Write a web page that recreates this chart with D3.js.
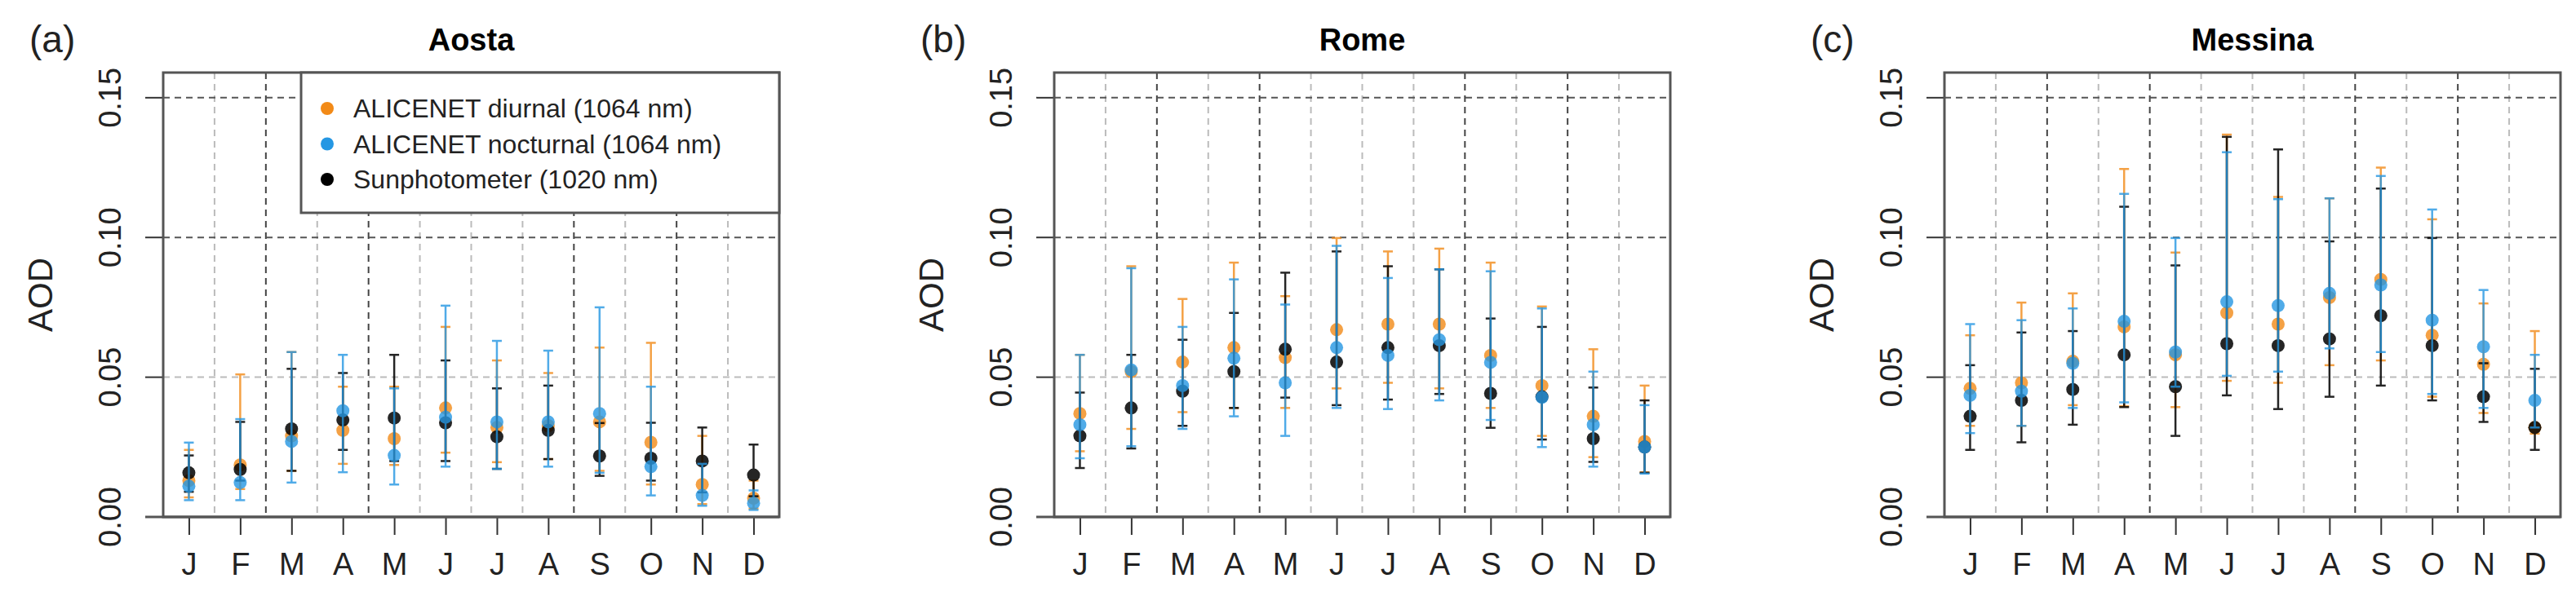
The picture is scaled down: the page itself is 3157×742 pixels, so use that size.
<!DOCTYPE html>
<html><head><meta charset="utf-8">
<script src="https://cdn.jsdelivr.net/npm/d3@7"></script>
<style>body{margin:0;background:#fff}text{font-family:"Liberation Sans Narrow","Liberation Sans",Arial,sans-serif}</style>
</head><body>
<script>
const months = ["J","F","M","A","M","J","J","A","S","O","N","D"];
const yTicks = [0, 0.05, 0.10, 0.15];
const sites = ["Aosta","Rome","Messina"];
const panelLabels = ["(a)","(b)","(c)"];
const seriesNames = ["ALICENET diurnal (1064 nm)","ALICENET nocturnal (1064 nm)","Sunphotometer (1020 nm)"];
const seriesColors = ["#f28a17","#2597e3","#000000"];

// [value, lower, upper] per month
const aostaDiurnal = [[0.013,0.007,0.024],[0.0186,0.010,0.051],[0.029,0.0165,0.059],[0.031,0.019,0.0466],[0.028,0.0186,0.0466],[0.039,0.023,0.068],[0.032,0.0196,0.056],[0.0326,0.0207,0.0515],[0.034,0.0165,0.0606],[0.0267,0.0116,0.0623],[0.0116,0.0046,0.029],[0.0067,0.003,0.013]];
const aostaNocturnal = [[0.011,0.006,0.0266],[0.0123,0.006,0.035],[0.027,0.0123,0.059],[0.038,0.016,0.058],[0.022,0.0116,0.046],[0.0357,0.018,0.0756],[0.034,0.0172,0.063],[0.034,0.018,0.0595],[0.037,0.0158,0.075],[0.018,0.0077,0.0466],[0.0077,0.004,0.019],[0.0049,0.0025,0.0095]];
const aostaSun = [[0.0158,0.009,0.022],[0.017,0.013,0.034],[0.0315,0.0165,0.053],[0.0347,0.024,0.0515],[0.0354,0.020,0.058],[0.0337,0.020,0.056],[0.0287,0.0172,0.046],[0.031,0.0207,0.047],[0.0218,0.0147,0.0336],[0.021,0.013,0.0337],[0.020,0.0088,0.032],[0.015,0.0074,0.0259]];
const romeDiurnal = [[0.037,0.0235,0.058],[0.052,0.0315,0.0897],[0.0554,0.0375,0.078],[0.0606,0.039,0.091],[0.057,0.039,0.079],[0.067,0.046,0.0998],[0.069,0.048,0.095],[0.069,0.046,0.096],[0.0578,0.039,0.091],[0.047,0.029,0.0753],[0.036,0.0214,0.060],[0.027,0.016,0.047]];
const romeNocturnal = [[0.033,0.021,0.058],[0.0526,0.0253,0.089],[0.047,0.0315,0.068],[0.0568,0.036,0.085],[0.048,0.029,0.076],[0.0606,0.039,0.097],[0.0578,0.0386,0.0855],[0.0634,0.0417,0.0886],[0.0553,0.0347,0.0879],[0.0428,0.025,0.0746],[0.033,0.018,0.052],[0.025,0.0155,0.040]];
const romeSun = [[0.029,0.0175,0.0445],[0.039,0.0245,0.058],[0.045,0.0326,0.0634],[0.052,0.039,0.073],[0.060,0.0427,0.0874],[0.0554,0.040,0.095],[0.0606,0.042,0.0897],[0.0613,0.044,0.0886],[0.0442,0.0319,0.071],[0.043,0.0277,0.068],[0.028,0.0197,0.0463],[0.025,0.0158,0.0417]];
const messinaDiurnal = [[0.046,0.0326,0.065],[0.048,0.0326,0.0767],[0.0557,0.040,0.080],[0.068,0.0396,0.1245],[0.058,0.0393,0.0946],[0.073,0.0487,0.1368],[0.069,0.048,0.1145],[0.0785,0.0543,0.114],[0.085,0.056,0.125],[0.065,0.043,0.1065],[0.0546,0.0372,0.0764],[0.032,0.0298,0.0665]];
const messinaNocturnal = [[0.0435,0.030,0.069],[0.045,0.0326,0.0704],[0.055,0.039,0.0746],[0.070,0.041,0.1156],[0.059,0.0466,0.0998],[0.077,0.0505,0.1305],[0.0756,0.052,0.1137],[0.080,0.0603,0.114],[0.083,0.059,0.122],[0.0704,0.044,0.110],[0.0609,0.039,0.0812],[0.0417,0.032,0.058]];
const messinaSun = [[0.036,0.024,0.0543],[0.0417,0.0267,0.066],[0.0456,0.033,0.0665],[0.058,0.0393,0.111],[0.0466,0.029,0.090],[0.062,0.0435,0.136],[0.0613,0.0386,0.1315],[0.0637,0.043,0.0986],[0.072,0.047,0.1175],[0.0613,0.0417,0.0998],[0.043,0.034,0.055],[0.032,0.024,0.053]];
const siteData = [[aostaDiurnal,aostaNocturnal,aostaSun],[romeDiurnal,romeNocturnal,romeSun],[messinaDiurnal,messinaNocturnal,messinaSun]];
const drawOrder = [0,2,1];

const W = 3157, H = 742;
const svg = d3.select("body").append("svg").attr("width", W).attr("height", H);
const boxLefts = [200, 1292, 2383], boxW = 755, boxTop = 89, boxBottom = 634;

sites.forEach((site, p) => {
	const x0 = boxLefts[p];
	const x = d3.scaleLinear().domain([0.5, 12.5]).range([x0, x0 + boxW]);
	const y = d3.scaleLinear().domain([0, 0.159]).range([boxBottom, boxTop]);
	const g = svg.append("g");

	// grid
	d3.range(1.5, 12, 1).forEach(b => {
		const strong = [2.5, 4.5, 8.5, 10.5].includes(b);
		g.append("line").attr("x1", x(b)).attr("x2", x(b)).attr("y1", boxTop).attr("y2", boxBottom)
			.attr("stroke", strong ? "#444" : "#bbb").attr("stroke-width", 2).attr("stroke-dasharray", "8,6");
	});
	yTicks.slice(1).forEach(t => {
		g.append("line").attr("x1", x0).attr("x2", x0 + boxW).attr("y1", y(t)).attr("y2", y(t))
			.attr("stroke", t === 0.05 ? "#bbb" : "#555").attr("stroke-width", 2).attr("stroke-dasharray", "8,6");
	});

	// axes
	g.append("g").attr("transform", `translate(${x0 - 20},0)`)
		.call(d3.axisLeft(y).tickValues(yTicks).tickSize(0).tickFormat(""))
		.call(a => a.select(".domain").remove());
	yTicks.forEach(t => {
		g.append("line").attr("x1", x0 - 22).attr("x2", x0).attr("y1", y(t)).attr("y2", y(t)).attr("stroke", "#333").attr("stroke-width", 2);
		g.append("text").attr("transform", `translate(${x0 - 52},${y(t)}) rotate(-90)`)
			.attr("text-anchor", "middle").attr("font-size", 38).attr("fill", "#222").text(d3.format(".2f")(t));
	});
	const xa = g.append("g").attr("transform", `translate(0,${boxBottom})`)
		.call(d3.axisBottom(x).tickValues(d3.range(1, 13)).tickSize(22).tickPadding(22).tickFormat(i => months[i - 1]));
	xa.select(".domain").remove();
	xa.selectAll("line").attr("stroke", "#333").attr("stroke-width", 2);
	xa.selectAll("text").attr("font-size", 38).attr("fill", "#222");

	g.append("rect").attr("x", x0).attr("y", boxTop).attr("width", boxW).attr("height", boxBottom - boxTop)
		.attr("fill", "none").attr("stroke", "#555").attr("stroke-width", 3);
	g.append("line").attr("x1", x0 - 22).attr("x2", x0 + boxW).attr("y1", boxBottom).attr("y2", boxBottom).attr("stroke", "#555").attr("stroke-width", 3);

	// error bars and points
	drawOrder.forEach(s => {
		const data = siteData[p][s];
		const c = seriesColors[s];
		const sg = g.append("g").attr("opacity", s === 2 ? 0.85 : 0.8);
		data.forEach((d, i) => {
			const cx = x(i + 1);
			sg.append("line").attr("x1", cx).attr("x2", cx).attr("y1", y(d[1])).attr("y2", y(d[2])).attr("stroke", c).attr("stroke-width", 2.5);
			[d[1], d[2]].forEach(v => sg.append("line").attr("x1", cx - 6).attr("x2", cx + 6).attr("y1", y(v)).attr("y2", y(v)).attr("stroke", c).attr("stroke-width", 2.5));
		});
		sg.selectAll("circle").data(data).join("circle")
			.attr("cx", (d, i) => x(i + 1)).attr("cy", d => y(d[0])).attr("r", 8).attr("fill", c);
	});

	// labels
	g.append("text").attr("x", x0 + boxW / 2).attr("y", 62).attr("text-anchor", "middle")
		.attr("font-size", 38).attr("font-weight", "bold").text(site);
	g.append("text").attr("x", x0 - 164).attr("y", 64).attr("font-size", 46).attr("fill", "#222").text(panelLabels[p]);
	g.append("text").attr("transform", `translate(${x0 - 136},${(boxTop + boxBottom) / 2}) rotate(-90)`)
		.attr("text-anchor", "middle").attr("font-size", 42).attr("fill", "#222").text("AOD");

	if (p === 0) {
		const lg = g.append("g");
		lg.append("rect").attr("x", 369).attr("y", boxTop).attr("width", x0 + boxW - 369).attr("height", 172)
			.attr("fill", "#fff").attr("stroke", "#555").attr("stroke-width", 3);
		seriesNames.forEach((n, k) => {
			const ly = 133 + k * 43.5;
			lg.append("circle").attr("cx", 401).attr("cy", ly).attr("r", 8).attr("fill", seriesColors[k]);
			lg.append("text").attr("x", 433).attr("y", ly + 11).attr("font-size", 32).attr("fill", "#222").text(n);
		});
	}
});
</script>
</body></html>
